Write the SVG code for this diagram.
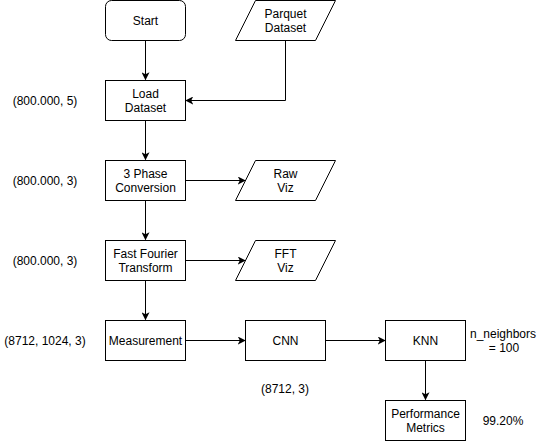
<svg xmlns="http://www.w3.org/2000/svg" width="538" height="441" viewBox="0 0 538 441">
<defs>
<style>
.n{fill:#fff;stroke:#000;stroke-width:1}
.t{font-family:"Liberation Sans",Arial,sans-serif;font-size:12px;fill:#000;text-anchor:middle;dominant-baseline:central}
.e{fill:none;stroke:#000;stroke-width:1}
</style>
<marker id="ah" viewBox="0 0 10 10" refX="9" refY="5" markerWidth="8" markerHeight="8" markerUnits="userSpaceOnUse" orient="auto">
<path d="M0,0 L10,5 L0,10 L2.5,5 Z" fill="#000"/>
</marker>
</defs>
<rect width="538" height="441" fill="#fff"/>
<g id="connectors">
<path class="e" d="M145.5,40.5 V79.5" marker-end="url(#ah)"/>
<path class="e" d="M285.5,40.5 V100.5 H186" marker-end="url(#ah)"/>
<path class="e" d="M145.5,120.5 V159.5" marker-end="url(#ah)"/>
<path class="e" d="M185.5,180.5 H245" marker-end="url(#ah)"/>
<path class="e" d="M145.5,200.5 V239.5" marker-end="url(#ah)"/>
<path class="e" d="M185.5,260.5 H245" marker-end="url(#ah)"/>
<path class="e" d="M145.5,280.5 V319.5" marker-end="url(#ah)"/>
<path class="e" d="M185.5,340.5 H245" marker-end="url(#ah)"/>
<path class="e" d="M325.5,340.5 H385" marker-end="url(#ah)"/>
<path class="e" d="M425.5,360.5 V399.5" marker-end="url(#ah)"/>
</g>
<g id="start">
<rect class="n" x="105.5" y="0.5" width="80" height="40" rx="6"/>
<text class="t" x="145.5" y="20.5">Start</text>
</g>
<g id="parquet">
<path class="n" d="M255.5,0.5 H335.5 L315.5,40.5 H235.5 Z"/>
<text class="t" x="285.5" y="13.5">Parquet</text>
<text class="t" x="285.5" y="27.5">Dataset</text>
</g>
<g id="load">
<rect class="n" x="105.5" y="80.5" width="80" height="40"/>
<text class="t" x="145.5" y="93.5">Load</text>
<text class="t" x="145.5" y="107.5">Dataset</text>
</g>
<g id="phase">
<rect class="n" x="105.5" y="160.5" width="80" height="40"/>
<text class="t" x="145.5" y="173.5">3 Phase</text>
<text class="t" x="145.5" y="187.5">Conversion</text>
</g>
<g id="rawviz">
<path class="n" d="M255.5,160.5 H335.5 L315.5,200.5 H235.5 Z"/>
<text class="t" x="285.5" y="173.5">Raw</text>
<text class="t" x="285.5" y="187.5">Viz</text>
</g>
<g id="fft">
<rect class="n" x="105.5" y="240.5" width="80" height="40"/>
<text class="t" x="145.5" y="253.5">Fast Fourier</text>
<text class="t" x="145.5" y="267.5">Transform</text>
</g>
<g id="fftviz">
<path class="n" d="M255.5,240.5 H335.5 L315.5,280.5 H235.5 Z"/>
<text class="t" x="285.5" y="253.5">FFT</text>
<text class="t" x="285.5" y="267.5">Viz</text>
</g>
<g id="measurement">
<rect class="n" x="105.5" y="320.5" width="80" height="40"/>
<text class="t" x="145.5" y="340.5">Measurement</text>
</g>
<g id="cnn">
<rect class="n" x="245.5" y="320.5" width="80" height="40"/>
<text class="t" x="285.5" y="340.5">CNN</text>
</g>
<g id="knn">
<rect class="n" x="385.5" y="320.5" width="80" height="40"/>
<text class="t" x="425.5" y="340.5">KNN</text>
</g>
<g id="metrics">
<rect class="n" x="385.5" y="400.5" width="80" height="40"/>
<text class="t" x="425.5" y="413.5">Performance</text>
<text class="t" x="425.5" y="427.5">Metrics</text>
</g>
<g id="labels">
<text class="t" x="45" y="100.5">(800.000, 5)</text>
<text class="t" x="45" y="180.5">(800.000, 3)</text>
<text class="t" x="45" y="260.5">(800.000, 3)</text>
<text class="t" x="45" y="340.5">(8712, 1024, 3)</text>
<text class="t" x="285" y="389">(8712, 3)</text>
<text class="t" x="503" y="334">n_neighbors</text>
<text class="t" x="504" y="348">= 100</text>
<text class="t" x="503" y="420.5">99.20%</text>
</g>
</svg>
